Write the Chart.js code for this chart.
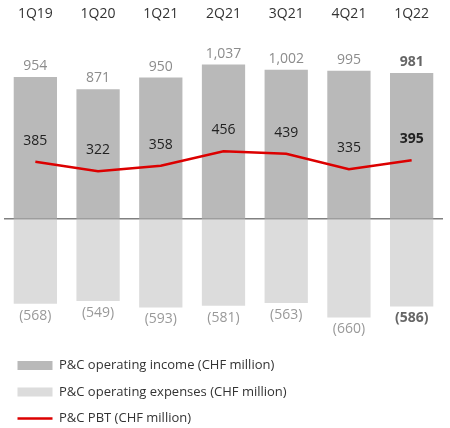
<!DOCTYPE html>
<html>
<head>
<meta charset="utf-8">
<script src="https://cdn.jsdelivr.net/npm/chart.js@4/dist/chart.umd.min.js"></script>
<style>
body{margin:0;background:#fff}
#wrap{width:450px;height:428px}
</style>
</head>
<body>
<div id="wrap"><canvas id="grafico" width="450" height="428"></canvas></div>
<script>
let trimestres = ["1Q19","1Q20","1Q21","2Q21","3Q21","4Q21","1Q22"]

let receitas = [954,871,950,1037,1002,995,981]

let despesas = [-568,-549,-593,-581,-563,-660,-586]

let lucro = [385,322,358,456,439,335,395]

let legendas = ["P&C operating income (CHF million)","P&C operating expenses (CHF million)","P&C PBT (CHF million)"]

let fonte = "'Open Sans', sans-serif"

let rotulos = {
id:"rotulos",
afterDatasetsDraw(chart){
let ctx = chart.ctx
let ultimo = trimestres.length - 1
ctx.save()
ctx.textAlign = "center"
ctx.textBaseline = "middle"

chart.getDatasetMeta(0).data.forEach((bar,i)=>{
ctx.font = (i === ultimo ? "bold " : "") + "14px " + fonte
ctx.fillStyle = i === ultimo ? "#666" : "#8c8c8c"
ctx.fillText(receitas[i].toLocaleString("en-US"), bar.x, bar.y - 11)
})

chart.getDatasetMeta(1).data.forEach((bar,i)=>{
ctx.font = (i === ultimo ? "bold " : "") + "14px " + fonte
ctx.fillStyle = i === ultimo ? "#666" : "#999"
ctx.fillText("(" + Math.abs(despesas[i]) + ")", bar.x, bar.y + 12)
})

chart.getDatasetMeta(2).data.forEach((pt,i)=>{
ctx.font = (i === ultimo ? "bold " : "") + "14px " + fonte
ctx.fillStyle = "#222"
ctx.fillText(lucro[i], pt.x, pt.y - 21)
})

ctx.restore()
}
}

new Chart(document.getElementById("grafico"),{

type:"bar",

data:{
labels:trimestres,
datasets:[
{
label:legendas[0],
data:receitas,
backgroundColor:"#b9b9b9",
grouped:false,
barPercentage:0.69,
categoryPercentage:1,
order:2,
pointStyle:"rect"
},
{
label:legendas[1],
data:despesas,
backgroundColor:"#dcdcdc",
grouped:false,
barPercentage:0.69,
categoryPercentage:1,
order:3,
pointStyle:"rect"
},
{
type:"line",
label:legendas[2],
data:lucro,
borderColor:"#dc0000",
backgroundColor:"#dc0000",
borderWidth:2.5,
pointRadius:0,
tension:0,
order:1,
pointStyle:"line"
}
]
},

options:{
responsive:false,
animation:false,
layout:{padding:{left:4,right:7,top:2,bottom:-7}},
plugins:{
tooltip:{enabled:false},
legend:{
position:"bottom",
align:"start",
labels:{
usePointStyle:true,
pointStyleWidth:35,
boxHeight:9,
padding:13.5,
color:"#333",
font:{family:fonte,size:13},
sort:(a,b) => a.datasetIndex - b.datasetIndex
}
}
},
scales:{
x:{
position:"top",
grid:{display:false},
border:{display:false},
ticks:{color:"#333",padding:4,font:{family:fonte,size:14}}
},
y:{
min:-848,
max:1237,
z:1,
ticks:{display:false,stepSize:10},
border:{display:false},
grid:{
drawTicks:false,
lineWidth:1.5,
color:c => c.tick.value === 0 ? "#808080" : "rgba(0,0,0,0)"
}
}
}
},

plugins:[rotulos]

})
</script>
</body>
</html>
